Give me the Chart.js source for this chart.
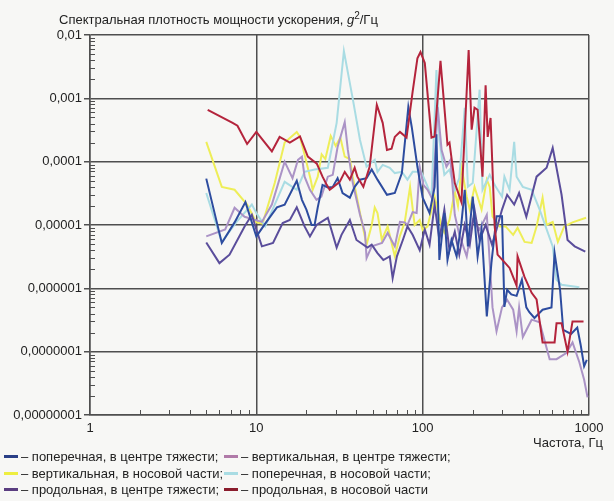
<!DOCTYPE html>
<html>
<head>
<meta charset="utf-8">
<script src="https://cdn.jsdelivr.net/npm/chart.js@4"></script>
<style>
  html, body { margin:0; padding:0; background:#f7f7f5; }
  #wrap { position:relative; width:614px; height:501px; overflow:hidden; font-family:"Liberation Sans", Arial, sans-serif; color:#222; }
  canvas { position:absolute; left:0; top:0; }
  #title { position:absolute; left:59px; top:12px; font-size:13px; white-space:nowrap; }
  #title sup { font-size:10px; vertical-align:5px; line-height:0; }
  #xtitle { position:absolute; right:11px; top:435px; font-size:13px; white-space:nowrap; }
  .lg { position:absolute; font-size:13px; white-space:nowrap; line-height:16px; }
  .sw { display:inline-block; width:14px; height:3px; vertical-align:middle; margin-right:3px; position:relative; top:-1px; }
</style>
</head>
<body>
<div id="wrap">
  <canvas id="c" width="614" height="501"></canvas>
  <div id="title">Спектральная плотность мощности ускорения, <i>g</i><sup>2</sup>/Гц</div>
  <div id="xtitle">Частота, Гц</div>
  <div id="legend"></div>
</div>
<script>
// ---- data (frequency, Hz ; PSD, g^2/Hz) ----
const seriesNames = [
  "– поперечная, в центре тяжести;",
  "– вертикальная, в центре тяжести;",
  "– вертикальная, в носовой части;",
  "– поперечная, в носовой части;",
  "– продольная, в центре тяжести;",
  "– продольная, в носовой части"
];
const yTickLabels = ["0,01","0,001","0,0001","0,00001","0,000001","0,0000001","0,00000001"];
const xTickLabels = ["1","10","100","1000"];

const blueF = [5,6.2,7.4,8.6,10,11.5,13.3,14.8,17.5,18.8,20,21.5,22.4,23.4,25,26.9,28.8,30.8,33,36.5,39,42,46,49.4,53.5,61,68,75,82,86,93,100,110,118,121,126,135,141,149,160,171,179,187,200,214,226,243,259,278,300,310,322,341,367,395,420,438,470,526,595,621,670,700,780,850,890,935,970];
const blueV = [5.4e-5,5.2e-6,1.1e-5,2.3e-5,6.6e-6,1.12e-5,1.9e-5,2.1e-5,5e-5,2.5e-5,1.75e-5,1e-5,1e-5,1.9e-5,4.3e-5,3.9e-5,4e-5,5.5e-5,3.2e-5,2.7e-5,4e-5,5.2e-5,5.5e-5,7.5e-5,5.2e-5,3e-5,3.2e-5,6.6e-5,7.3e-4,3.5e-4,8.3e-5,2.7e-5,1.55e-5,4e-5,2.7e-4,2.8e-6,1.55e-5,2.8e-6,5.8e-6,3.2e-6,1.07e-5,3.6e-5,4.6e-6,2.8e-5,3.2e-6,8.5e-6,3.6e-7,2.5e-6,1.37e-5,1.37e-5,5.1e-7,9.5e-7,8e-7,7.6e-7,1.37e-6,5e-7,4.2e-7,3.4e-7,4.6e-7,5e-7,3.6e-6,9.5e-7,2.2e-7,1.9e-7,2.4e-7,1.3e-7,5.9e-8,7.4e-8];

const lavF = [5,6.5,7.4,8.5,10.8,12.4,14.8,16.5,17.8,18.8,19.5,21,23,24.6,26.9,28.8,30.8,34,35.5,38,42,45,46,49.4,57,61.6,68,73,78,81,87,92,96,101,107,115,123,130,139,147,156,166,184,200,220,243,263,278,300,322,350,367,380,400,452,505,580,638,730,796,875,935,980];
const lavV = [6.6e-6,8.5e-6,1.87e-5,1.35e-5,1.12e-5,2.1e-5,1e-4,5.5e-5,1.07e-4,1.2e-4,5.8e-5,3.6e-5,2.5e-5,2.8e-5,5.8e-5,6.2e-5,1.7e-4,4.2e-4,1.53e-4,4.6e-5,1.45e-5,7.6e-6,3e-6,4.6e-6,5.2e-6,7.5e-6,4.6e-6,1.12e-5,1.1e-5,1e-5,1.6e-5,1.55e-5,8.3e-5,4.3e-5,3.6e-5,2.5e-5,7.3e-4,1.53e-4,8.3e-5,1.07e-4,1.45e-5,7e-6,3.2e-6,1.2e-5,8.5e-6,1.45e-5,5e-7,2.1e-7,5e-7,6.6e-7,4.6e-7,2.1e-7,5e-7,1.7e-7,3.2e-7,2.9e-7,7.6e-8,7.6e-8,9.5e-8,1.4e-7,6.8e-8,3.6e-8,1.9e-8];

const yelF = [5,6.2,7.4,8.8,10,10.9,12.9,14.8,17.5,18.3,19.5,21.3,21.8,23.4,24.7,26,28,30,32,34,36.5,38,40.5,43.6,46,49.4,51.5,53.5,56.8,61.6,68,72.8,78,84,89.5,96,100,107,118,130,135,145,156,163,171,184,192,205,226,243,253,263,278,290,315,350,372,410,452,484,526,556,605,650,710,796,960];
const yelV = [2.05e-4,4e-5,3.6e-5,2.1e-5,1.1e-5,1.05e-5,4.6e-5,2e-4,2.95e-4,2.46e-4,1.3e-4,5e-5,3.6e-5,5.8e-5,1.3e-4,1.1e-4,2.55e-4,1.77e-4,2.4e-4,1.2e-4,1.1e-4,5.8e-5,2.5e-5,9.5e-6,4.9e-6,1e-5,1.9e-5,1.55e-5,5.8e-6,9.5e-6,3.2e-6,6.6e-6,1.1e-5,4e-5,1e-5,1.2e-5,8.3e-6,9.5e-6,2.8e-5,9.5e-6,7.6e-6,1.2e-5,3.4e-5,2e-5,8.3e-5,2.8e-5,1.75e-5,4e-5,1.75e-5,5.2e-5,4e-5,1.37e-5,1.1e-5,9.5e-6,9.5e-6,7e-6,9e-6,5.4e-6,5.2e-6,9.5e-6,2.7e-5,1e-5,1.12e-5,5.4e-6,9.5e-6,1.1e-5,1.3e-5];

const cyanF = [5,6.2,7.6,9.4,10,11.3,12.9,14.8,17.5,19.5,22.4,26.9,30.4,33.6,38,42,46,51.5,53.5,57.5,63.4,68,75,81,87,98,106,113,121,126,135,145,156,166,179,187,200,220,229,253,275,300,310,333,355,367,400,452,505,605,638,684,875];
const cyanV = [3.2e-5,5.4e-6,1.12e-5,2.1e-5,1.55e-5,9.5e-6,2.1e-5,4.8e-5,3.6e-5,6.9e-5,7.5e-5,8e-5,4.1e-4,5.6e-3,9.8e-4,2.2e-4,8.3e-5,1.07e-4,6.9e-5,8.9e-5,8e-5,6.6e-5,6.9e-5,5.2e-5,6.9e-5,6.9e-5,4.3e-5,2.8e-5,2.8e-3,2.2e-4,6.2e-5,7.5e-5,3.6e-5,5.5e-5,7.1e-4,4e-5,4.6e-5,1.37e-3,3.6e-5,6.2e-5,4e-5,2.8e-5,5.8e-5,3.6e-5,2.05e-4,5.8e-5,4e-5,3.6e-5,1.75e-5,4.6e-6,1.37e-6,1.14e-6,1.04e-6];

const slateF = [5,6,6.9,8.5,9.4,10,10.8,12.6,14.4,15.9,17.5,19.5,21,23,26.9,30.4,32.5,36.5,40,46.6,49.4,53.5,58,63.4,66,70,76,81,87,96,103,110,118,126,135,145,156,166,179,192,205,220,239,261,278,300,322,355,380,420,484,556,605,630,684,743,820,950];
const slateV = [5.3e-6,2.5e-6,3.4e-6,9.5e-6,1.45e-5,8.5e-6,4.6e-6,5.2e-6,1.07e-5,1.2e-5,1.9e-5,9.5e-6,6.6e-6,1e-5,1.3e-5,4.4e-6,7e-6,1.2e-5,5.8e-6,4.4e-6,4.9e-6,3.6e-6,2.8e-6,3.2e-6,1.45e-6,3.2e-6,5.8e-6,9.5e-6,7e-6,4e-6,8.5e-6,4.9e-6,2.1e-5,5.8e-6,1.75e-5,4e-6,7.8e-6,3.4e-6,1e-5,4.9e-6,1.75e-5,5.8e-6,1e-5,4.9e-6,8.5e-6,1.75e-5,3e-5,2.1e-5,3.2e-5,1.35e-5,5.8e-5,8e-5,1.65e-4,9.5e-5,3e-5,5.8e-6,4.6e-6,3.8e-6];

const redF = [5.1,7.2,7.7,8.8,10,12.4,13.8,15.9,18.3,20.4,23.1,25,26.5,27.6,28.8,31.7,34,36.5,39,40.5,44,48,53,57.5,61,65,68,73,80,87,93,97,103,113,118,128,141,145,156,171,189,197,205,214,229,239,246,256,271,282,310,333,367,372,410,452,484,526,621,638,684,743,796,927];
const redV = [6.6e-4,4.1e-4,3.7e-4,1.9e-4,2.95e-4,1.45e-4,2.46e-4,2e-4,2.5e-4,1.2e-4,9.3e-5,5.8e-5,4.3e-5,3.6e-5,3.9e-5,4.8e-5,6.9e-5,5.2e-5,8e-5,5.8e-5,4e-5,8.3e-5,7.9e-4,4.1e-4,1.53e-4,1.6e-4,2.46e-4,2.95e-4,2.4e-4,1.26e-3,4.3e-3,5.4e-3,3.6e-3,2.4e-4,2.5e-4,3.9e-3,1.85e-4,2e-4,4.6e-5,2.3e-5,5.8e-3,3.2e-4,7.1e-4,6.6e-4,5.8e-5,1.6e-3,2.46e-4,4.9e-4,9.5e-6,3.4e-6,2.6e-6,2.1e-6,1.1e-6,3.2e-6,1.5e-6,8.5e-7,6.7e-7,1.4e-7,1.4e-7,2.8e-7,2.8e-7,1e-7,3e-7,3e-7];

// ---- styling ----
const colors = ["#2d4c9f", "#ab93c6", "#eeee58", "#a9dce3", "#5a4d9b", "#b4243c"];
const swatchColors = ["#2a3f86", "#b07aa8", "#eeee40", "#a9dce3", "#5a3d80", "#8a1c2c"];
const drawOrder = [2, 4, 6, 5, 3, 1];

function pts(F, V) {
  const n = Math.min(F.length, V.length);
  const out = [];
  for (let i = 0; i < n; i++) out.push({x: F[i], y: V[i]});
  return out;
}
const seriesData = [pts(blueF, blueV), pts(lavF, lavV), pts(yelF, yelV), pts(cyanF, cyanV), pts(slateF, slateV), pts(redF, redV)];

const datasets = seriesData.map((d, i) => ({
  label: seriesNames[i],
  data: d,
  borderColor: colors[i],
  backgroundColor: colors[i],
  borderWidth: 2,
  pointRadius: 0,
  tension: 0,
  fill: false,
  order: drawOrder[i]
}));

const decadesY = [1e-2,1e-3,1e-4,1e-5,1e-6,1e-7,1e-8];
const decadesX = [1,10,100,1000];
const gridColor = "#4f4f4f";

const minorTicks = {
  id: 'minorTicks',
  afterDatasetsDraw(chart) {
    const ctx = chart.ctx, xs = chart.scales.x, ys = chart.scales.y, a = chart.chartArea;
    ctx.save();
    ctx.strokeStyle = gridColor;
    ctx.lineWidth = 1;
    ctx.beginPath();
    for (let e = -8; e < -2; e++) {
      for (let m = 2; m <= 9; m++) {
        const y = Math.round(ys.getPixelForValue(m * Math.pow(10, e))) + 0.5;
        ctx.moveTo(a.left, y); ctx.lineTo(a.left + 5, y);
      }
    }
    for (let e = 0; e < 3; e++) {
      for (let m = 2; m <= 9; m++) {
        const x = Math.round(xs.getPixelForValue(m * Math.pow(10, e))) + 0.5;
        ctx.moveTo(x, a.bottom); ctx.lineTo(x, a.bottom - 5);
      }
    }
    ctx.stroke();
    ctx.restore();
  }
};

new Chart(document.getElementById('c'), {
  type: 'line',
  data: { datasets },
  options: {
    responsive: false,
    animation: false,
    devicePixelRatio: 1,
    layout: { padding: { left: 0, top: 35, right: 25, bottom: 0 } },
    plugins: { legend: { display: false }, tooltip: { enabled: false } },
    scales: {
      x: {
        type: 'logarithmic', min: 1, max: 1000,
        afterBuildTicks: s => { s.ticks = decadesX.map(v => ({value: v})); },
        afterFit: s => { s.height = 86; },
        ticks: {
          autoSkip: false, maxRotation: 0, padding: 6, color: "#222",
          font: { family: "'Liberation Sans', Arial, sans-serif", size: 13 },
          callback: (v, i) => xTickLabels[i]
        },
        grid: { color: gridColor, lineWidth: 1.5, drawTicks: false },
        border: { color: gridColor, width: 1.5 }
      },
      y: {
        type: 'logarithmic', min: 1e-8, max: 1e-2,
        afterBuildTicks: s => { s.ticks = decadesY.slice().reverse().map(v => ({value: v})); },
        afterFit: s => { s.width = 90; },
        ticks: {
          autoSkip: false, padding: 2, color: "#222",
          font: { family: "'Liberation Sans', Arial, sans-serif", size: 13 },
          callback: (v, i) => yTickLabels[yTickLabels.length - 1 - i]
        },
        grid: { color: gridColor, lineWidth: 1.5, tickLength: 6 },
        border: { color: gridColor, width: 1.5 }
      }
    }
  },
  plugins: [minorTicks]
});

// ---- legend (HTML text) ----
const legendPos = [[4, 449], [224, 449], [4, 466], [224, 466], [4, 482], [224, 482]];
const lg = document.getElementById('legend');
seriesNames.forEach((name, i) => {
  const d = document.createElement('div');
  d.className = 'lg';
  d.style.left = legendPos[i][0] + 'px';
  d.style.top = legendPos[i][1] + 'px';
  const sw = document.createElement('span');
  sw.className = 'sw';
  sw.style.background = swatchColors[i];
  d.appendChild(sw);
  d.appendChild(document.createTextNode(name));
  lg.appendChild(d);
});
</script>
</body>
</html>
